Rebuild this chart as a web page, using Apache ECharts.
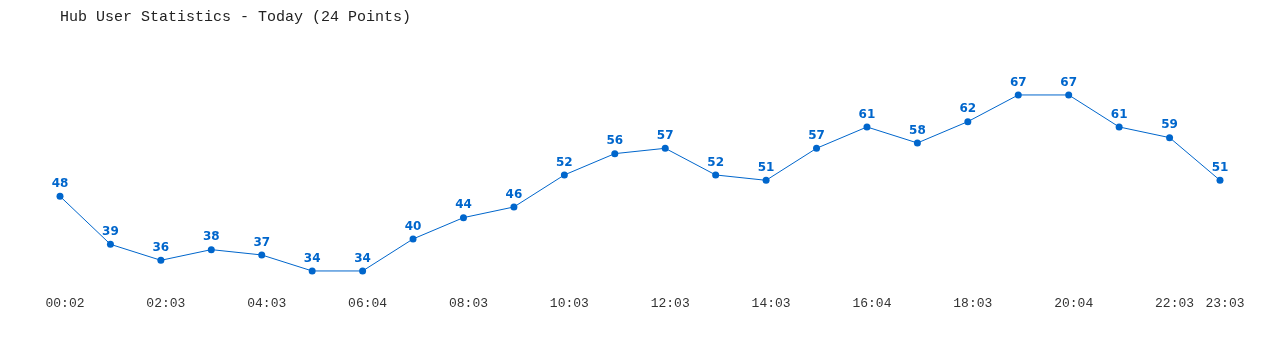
<!DOCTYPE html>
<html>
<head>
<meta charset="utf-8">
<script src="https://cdn.jsdelivr.net/npm/echarts@6/dist/echarts.min.js"></script>
<style>html,body{margin:0;padding:0;background:#fff;}#c{width:1280px;height:350px;}</style>
</head>
<body>
<div id="c"></div>
<script>
const titleText = 'Hub User Statistics - Today (24 Points)';
const categories = ['00:02','01:03','02:03','03:03','04:03','05:03','06:04','07:03','08:03','09:03','10:03','11:03','12:03','13:03','14:03','15:03','16:04','17:03','18:03','19:03','20:04','21:03','22:03','23:03'];
const users = [48,39,36,38,37,34,34,40,44,46,52,56,57,52,51,57,61,58,62,67,67,61,59,51];

const chart = echarts.init(document.getElementById('c'));
chart.setOption({
  animation: false,
  backgroundColor: '#fff',
  title: {
    text: titleText, left: 55, top: 5,
    textStyle: { fontFamily: 'Liberation Mono', fontSize: 15, fontWeight: 'normal', color: '#222' }
  },
  grid: { left: 60, right: 60, top: 52.3, bottom: 57.7 },
  xAxis: {
    type: 'category', data: categories, boundaryGap: false,
    axisLine: { show: false }, axisTick: { show: false },
    axisLabel: {
      interval: (i) => i % 2 === 0 || i === categories.length - 1,
      margin: 5, padding: [0, 0, 0, 10], fontFamily: 'Liberation Mono', fontSize: 13, color: '#333'
    }
  },
  yAxis: { type: 'value', min: 30, max: 75, show: false, splitLine: { show: false } },
  series: [{
    type: 'line', data: users,
    symbol: 'circle', symbolSize: 7,
    lineStyle: { color: '#0066cc', width: 1 },
    itemStyle: { color: '#0066cc' },
    label: { show: true, position: 'top', distance: 3, color: '#0066cc', fontFamily: 'DejaVu Sans', fontWeight: 'bold', fontSize: 12 }
  }]
});
</script>
</body>
</html>
